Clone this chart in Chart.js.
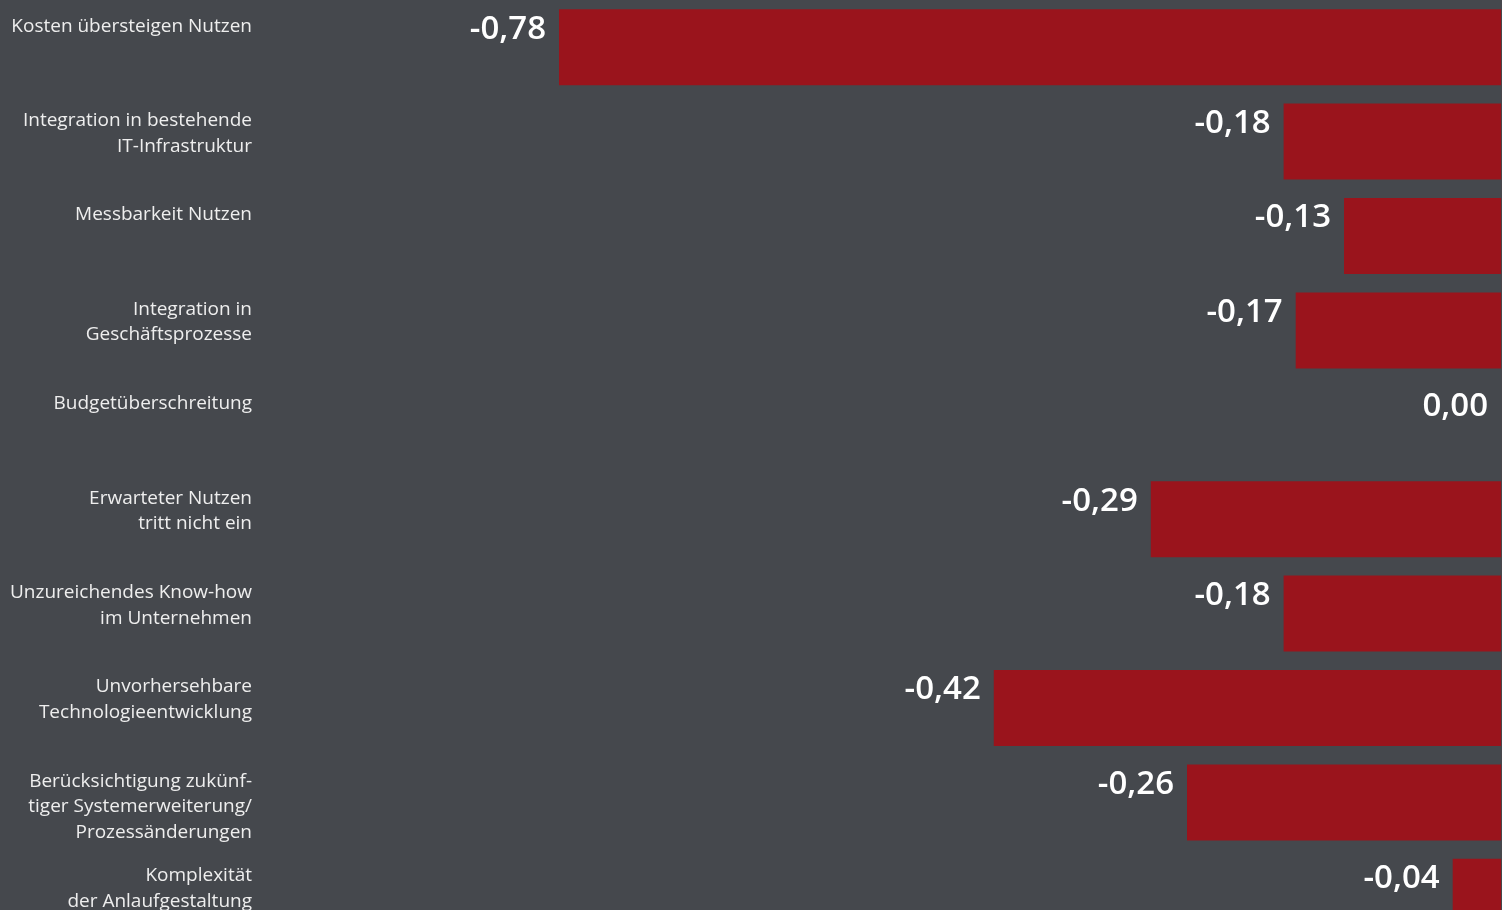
<!DOCTYPE html>
<html>
<head>
<meta charset="utf-8">
<script src="https://cdn.jsdelivr.net/npm/chart.js@4/dist/chart.umd.min.js"></script>
<style>
  html, body { margin: 0; padding: 0; background: #45484d; overflow: hidden; }
  canvas { display: block; }
</style>
</head>
<body>
<canvas id="chartRisiken" width="1502" height="944"></canvas>
<script>
// Kategorien (mehrzeilig wie im Original)
var kategorien = [
    ['Kosten übersteigen Nutzen'],
    ['Integration in bestehende', 'IT-Infrastruktur'],
    ['Messbarkeit Nutzen'],
    ['Integration in', 'Geschäftsprozesse'],
    ['Budgetüberschreitung'],
    ['Erwarteter Nutzen', 'tritt nicht ein'],
    ['Unzureichendes Know-how', 'im Unternehmen'],
    ['Unvorhersehbare', 'Technologieentwicklung'],
    ['Berücksichtigung zukünf-', 'tiger Systemerweiterung/', 'Prozessänderungen'],
    ['Komplexität', 'der Anlaufgestaltung']
];
var werte = [-0.78, -0.18, -0.13, -0.17, 0.00, -0.29, -0.18, -0.42, -0.26, -0.04];

function fmt(v) {
    return v.toFixed(2).replace('.', ',');
}

// Wert links neben dem Balken
var wertLabels = {
    id: 'wertLabels',
    afterDatasetsDraw: function(chart) {
        var ctx = chart.ctx;
        var meta = chart.getDatasetMeta(0);
        ctx.save();
        ctx.fillStyle = '#ffffff';
        ctx.font = '600 33px "Open Sans"';
        ctx.textAlign = 'right';
        ctx.textBaseline = 'middle';
        meta.data.forEach(function(bar, i) {
            var top = bar.y - bar.height / 2;
            ctx.fillText(fmt(werte[i]), bar.x - 13, top + 20);
        });
        ctx.restore();
    }
};

var ctx = document.getElementById('chartRisiken');
var chart = new Chart(ctx, {
    type: 'bar',
    data: {
        labels: kategorien,
        datasets: [{
            data: werte,
            backgroundColor: '#9a141c',
            borderWidth: 0,
            categoryPercentage: 1,
            barPercentage: 0.805
        }]
    },
    options: {
        indexAxis: 'y',
        responsive: false,
        animation: false,
        layout: { padding: { top: 0, right: 1, bottom: 0, left: 0 } },
        plugins: {
            legend: { display: false },
            tooltip: { enabled: false }
        },
        scales: {
            x: {
                display: false,
                min: -1.0276,
                max: 0
            },
            y: {
                afterFit: function(scale) {
                    scale.width = 260;
                    scale.paddingTop = 0;
                    scale.paddingBottom = 0;
                },
                grid: { display: false, drawTicks: false },
                border: { display: false },
                ticks: {
                    color: '#eeeeee',
                    font: { family: '"Open Sans"', size: 19, lineHeight: 1.342 },
                    padding: 8,
                    labelOffset: 4.5,
                    autoSkip: false,
                    callback: function(value, index) {
                        var zeilen = kategorien[index].slice();
                        while (zeilen.length < 3) zeilen.push('');
                        return zeilen;
                    }
                }
            }
        }
    },
    plugins: [wertLabels]
});
</script>
</body>
</html>
